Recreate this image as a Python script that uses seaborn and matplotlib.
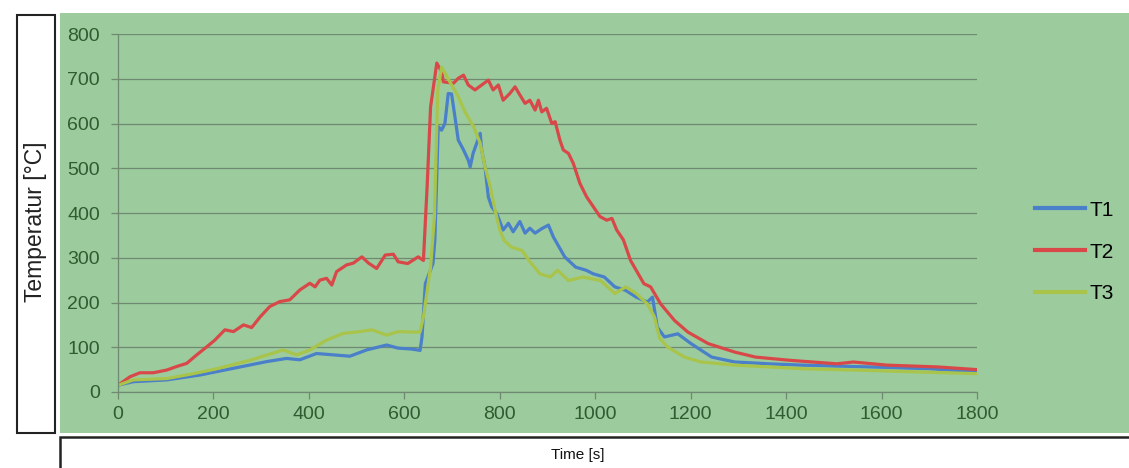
import matplotlib.pyplot as plt
from matplotlib import font_manager
from matplotlib.patches import Rectangle
import pandas as pd
import seaborn as sns

# Readings from the chart (time in s, temperature in degC)
t1_time = [0, 32, 102, 172, 242, 312, 353, 381, 416, 451,
           486, 521, 563, 587, 615, 633, 637, 644, 660, 664,
           671, 678, 685, 692, 699, 706, 713, 724, 734, 738,
           744, 759, 762, 769, 776, 783, 794, 807, 818, 828,
           842, 853, 863, 874, 888, 902, 912, 936, 959, 981,
           996, 1019, 1041, 1064, 1086, 1109, 1120, 1130, 1145, 1173,
           1201, 1244, 1293, 1364, 1435, 1576, 1700, 1800]
t1_temp = [15, 23, 27, 38, 53, 68, 75, 72, 86, 83,
           80, 94, 105, 98, 96, 93, 123, 242, 287, 340,
           593, 585, 600, 667, 666, 615, 563, 541, 518, 503,
           533, 578, 541, 503, 436, 414, 398, 362, 377, 358,
           381, 355, 366, 355, 365, 373, 347, 302, 279, 272,
           264, 257, 235, 227, 212, 201, 212, 145, 123, 130,
           108, 78, 67, 63, 60, 56, 52, 45]

t2_time = [0, 25, 46, 74, 102, 123, 144, 165, 186, 203,
           224, 242, 263, 280, 298, 318, 339, 360, 381, 402,
           413, 423, 437, 448, 458, 479, 493, 511, 525, 542,
           560, 577, 587, 607, 629, 640, 648, 655, 668, 678,
           682, 703, 713, 724, 734, 748, 762, 776, 786, 797,
           807, 821, 832, 842, 853, 863, 874, 881, 888, 898,
           909, 916, 926, 933, 944, 954, 968, 982, 996, 1010,
           1024, 1035, 1045, 1059, 1074, 1102, 1116, 1137, 1166, 1194,
           1237, 1293, 1336, 1406, 1506, 1541, 1612, 1718, 1800]
t2_temp = [15, 34, 43, 43, 49, 57, 64, 83, 101, 116,
           139, 135, 150, 144, 168, 191, 202, 206, 228, 243,
           235, 250, 254, 239, 269, 284, 288, 302, 288, 276,
           306, 308, 291, 287, 302, 294, 465, 637, 735, 716,
           693, 690, 701, 708, 686, 675, 686, 697, 675, 686,
           652, 667, 682, 664, 645, 652, 630, 652, 626, 634,
           600, 604, 563, 541, 533, 511, 466, 436, 414, 392,
           384, 388, 362, 340, 294, 242, 235, 197, 160, 134,
           108, 89, 78, 71, 63, 67, 60, 56, 50]

t3_time = [0, 32, 102, 158, 207, 277, 346, 374, 402, 437,
           472, 507, 532, 563, 587, 615, 633, 640, 655, 663,
           670, 678, 697, 713, 727, 745, 759, 769, 780, 790,
           800, 809, 824, 847, 861, 884, 906, 921, 944, 974,
           1011, 1041, 1064, 1086, 1109, 1124, 1135, 1152, 1187, 1222,
           1293, 1435, 1576, 1800]
t3_temp = [15, 27, 30, 41, 52, 71, 94, 83, 94, 116,
           131, 135, 139, 127, 135, 134, 134, 168, 279, 391,
           674, 726, 690, 660, 626, 593, 556, 503, 459, 407,
           362, 339, 324, 316, 294, 264, 257, 272, 249, 257,
           249, 220, 235, 220, 197, 168, 120, 100, 78, 67,
           60, 52, 48, 41]

series_names = ['T1', 'T2', 'T3']
series_colors = ['#4a7fca', '#d94848', '#a9c44a']
x_ticks = [0, 200, 400, 600, 800, 1000, 1200, 1400, 1600, 1800]
y_ticks = [0, 100, 200, 300, 400, 500, 600, 700, 800]

df = pd.concat([
    pd.DataFrame({'time': t1_time, 'temp': t1_temp, 'sensor': 'T1'}),
    pd.DataFrame({'time': t2_time, 'temp': t2_temp, 'sensor': 'T2'}),
    pd.DataFrame({'time': t3_time, 'temp': t3_temp, 'sensor': 'T3'}),
], ignore_index=True)

# use a condensed face for the x title if there is one
installed = {f.name for f in font_manager.fontManager.ttflist}
narrow = 'Liberation Sans Narrow' if 'Liberation Sans Narrow' in installed else 'Liberation Sans'

green = '#9ccb9e'
tick_green = '#2f5c30'
grid_grey = '#6f8a70'

fig = plt.figure(figsize=(11.29, 4.68), dpi=100)
fig.patch.set_facecolor('white')

# green panel, and the two white label boxes
fig.patches.append(Rectangle((60 / 1129, 1 - 433 / 468), 1069 / 1129, 420 / 468,
                             transform=fig.transFigure, facecolor=green, edgecolor='none', zorder=0))
fig.patches.append(Rectangle((17 / 1129, 1 - 433 / 468), 38 / 1129, 418 / 468,
                             transform=fig.transFigure, facecolor='white', edgecolor='#222222',
                             linewidth=1.5, zorder=1))
fig.patches.append(Rectangle((60 / 1129, -0.05), 1.1, (0.05 + 1 - 437 / 468),
                             transform=fig.transFigure, facecolor='white', edgecolor='#222222',
                             linewidth=1.8, zorder=1))

ax = fig.add_axes([118 / 1129, 1 - 392 / 468, (977 - 118) / 1129, (392 - 34) / 468])
ax.set_facecolor('none')
ax.set_zorder(3)

sns.lineplot(data=df, x='time', y='temp', hue='sensor', hue_order=series_names,
             palette=series_colors, estimator=None, sort=False, linewidth=2.3, ax=ax)

ax.set_xlim(0, 1800)
ax.set_ylim(0, 800)
ax.set_xticks(x_ticks)
ax.set_yticks(y_ticks)
ax.set_xticklabels([str(v) for v in x_ticks], family=['Liberation Sans', 'DejaVu Sans'],
                   fontsize=14, color=tick_green)
ax.set_yticklabels([str(v) for v in y_ticks], family=['Liberation Sans', 'DejaVu Sans'],
                   fontsize=14, color=tick_green)
ax.tick_params(axis='both', direction='out', length=5, color=grid_grey, width=0.9)
ax.tick_params(axis='x', pad=5)
ax.tick_params(axis='y', pad=8)
ax.grid(axis='y', color=grid_grey, linewidth=0.9)
ax.set_axisbelow(True)
for side in ['top', 'right']:
    ax.spines[side].set_visible(False)
for side in ['left', 'bottom']:
    ax.spines[side].set_color(grid_grey)
    ax.spines[side].set_linewidth(0.9)
ax.set_xlabel('')
ax.set_ylabel('')

leg = ax.legend(loc='center left', bbox_to_anchor=(1035 / 1129, 1 - 252 / 468),
                bbox_transform=fig.transFigure, frameon=False, borderpad=0, borderaxespad=0,
                handlelength=2.4, handletextpad=0.2, labelspacing=1.1,
                prop={'family': ['Liberation Sans', 'DejaVu Sans'], 'size': 15})
for line in leg.get_lines():
    line.set_linewidth(3)

fig.text(36 / 1129, 1 - 222 / 468, 'Temperatur [°C]', rotation=90, ha='center', va='center',
         fontsize=16.5, family=['Liberation Sans', 'DejaVu Sans'], color='#222222')
fig.text(578 / 1129, 1 - 455 / 468, 'Time [s]', ha='center', va='center',
         fontsize=11, family=[narrow, 'DejaVu Sans'], color='#111111')

fig.savefig('out.png', dpi=100)
